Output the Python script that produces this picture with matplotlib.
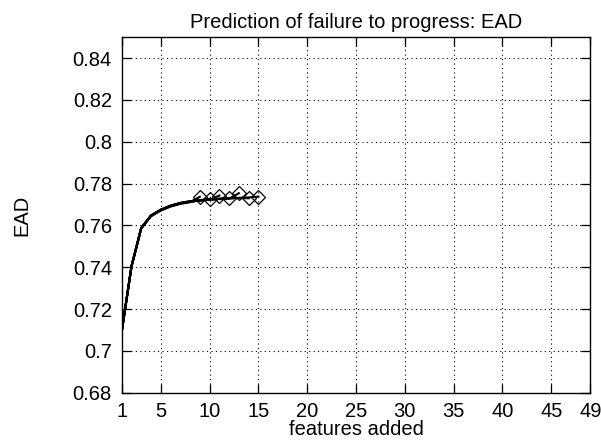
import matplotlib
matplotlib.use("Agg")
import matplotlib.pyplot as plt

plt.rcParams['font.family'] = ['Liberation Sans', 'DejaVu Sans']

# Each curve: EAD vs number of features added (x starts at 1)
ead_9 = [0.7090, 0.7402, 0.7586, 0.7644, 0.7671, 0.7690, 0.7703, 0.7711, 0.7737]
ead_10 = [0.7092, 0.7404, 0.7588, 0.7646, 0.7674, 0.7693, 0.7706, 0.7714, 0.7719, 0.7727]
ead_11 = [0.7091, 0.7403, 0.7587, 0.7647, 0.7676, 0.7695, 0.7707, 0.7715, 0.7720, 0.7723, 0.7743]
ead_12 = [0.7093, 0.7405, 0.7589, 0.7648, 0.7675, 0.7694, 0.7708, 0.7716, 0.7721, 0.7724, 0.7727, 0.7730]
ead_13 = [0.7092, 0.7403, 0.7586, 0.7645, 0.7673, 0.7692, 0.7705, 0.7713, 0.7719, 0.7723, 0.7726, 0.7728, 0.7754]
ead_14 = [0.7091, 0.7404, 0.7588, 0.7646, 0.7674, 0.7693, 0.7706, 0.7714, 0.7720, 0.7724, 0.7727, 0.7729, 0.7731, 0.7730]
ead_15 = [0.7092, 0.7403, 0.7587, 0.7647, 0.7675, 0.7694, 0.7707, 0.7715, 0.7721, 0.7725, 0.7728, 0.7730, 0.7732, 0.7734, 0.7738]
series = [ead_9, ead_10, ead_11, ead_12, ead_13, ead_14, ead_15]

x_ticks = [1, 5, 10, 15, 20, 25, 30, 35, 40, 45, 49]
y_ticks = [0.68, 0.70, 0.72, 0.74, 0.76, 0.78, 0.80, 0.82, 0.84]
y_tick_labels = ['0.68', '0.7', '0.72', '0.74', '0.76', '0.78', '0.8', '0.82', '0.84']

FS = 14.5

fig = plt.figure(figsize=(6.01, 4.47), dpi=100)
ax = fig.add_axes([0.2025, 0.1215, 0.7797, 0.7951])

for s in series:
    xs = list(range(1, len(s) + 1))
    ax.plot(xs, s, color='black', lw=1.5, zorder=3)
    ax.plot(xs[-1:], s[-1:], linestyle='none', marker='D', markersize=7,
            markerfacecolor='none', markeredgecolor='black', markeredgewidth=0.9, zorder=4)

ax.set_xlim(1, 49)
ax.set_ylim(0.68, 0.85)
ax.set_xticks(x_ticks)
ax.set_yticks(y_ticks)
ax.set_yticklabels(y_tick_labels)
ax.tick_params(direction='in', length=6.5, width=0.9, top=True, right=True,
               labelsize=FS, pad=7)
for side in ax.spines.values():
    side.set_linewidth(1.0)

for xv in x_ticks[1:-1]:
    ax.axvline(xv, color='black', lw=0.8, ls=(0, (1, 3)), zorder=1)
for yv in y_ticks[1:]:
    ax.axhline(yv, color='black', lw=0.8, ls=(0, (1, 3)), zorder=1)

ax.set_title('Prediction of failure to progress: EAD', fontsize=FS, pad=7)
ax.set_xlabel('features added', fontsize=FS, labelpad=-1)
ax.set_ylabel('EAD', fontsize=FS, labelpad=30)

fig.savefig('out.png', dpi=100)
